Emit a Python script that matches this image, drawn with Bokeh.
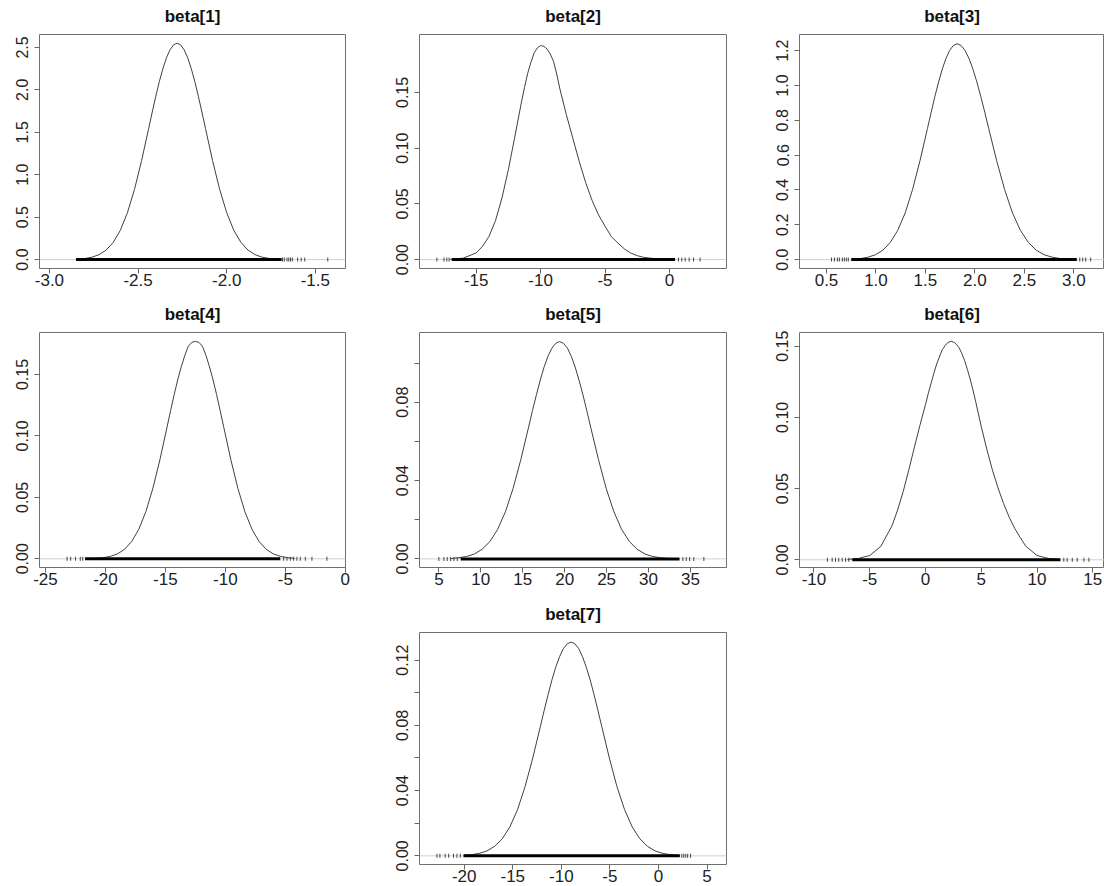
from bokeh.plotting import figure
from bokeh.layouts import gridplot
from bokeh.models import Range1d, FixedTicker, Span, PrintfTickFormatter
from bokeh.embed import file_html
from bokeh.resources import INLINE

# ---------------- data ----------------
titles = ["beta[1]", "beta[2]", "beta[3]", "beta[4]", "beta[5]", "beta[6]", "beta[7]"]

b1_x = [-2.84, -2.80, -2.76, -2.72, -2.68, -2.64, -2.60, -2.56, -2.52, -2.48, -2.44, -2.42, -2.40, -2.38, -2.36,
        -2.34, -2.32, -2.30, -2.28, -2.26, -2.24, -2.22, -2.20, -2.18, -2.16, -2.14, -2.12, -2.08, -2.04, -2.00,
        -1.96, -1.92, -1.88, -1.84, -1.80, -1.76, -1.72]
b1_y = [0.006, 0.013, 0.028, 0.058, 0.112, 0.203, 0.345, 0.552, 0.828, 1.167, 1.547, 1.739, 1.925, 2.098, 2.250,
        2.377, 2.471, 2.530, 2.550, 2.530, 2.471, 2.377, 2.250, 2.098, 1.925, 1.739, 1.547, 1.167, 0.828, 0.552,
        0.345, 0.203, 0.112, 0.058, 0.028, 0.013, 0.006]

b2_x = [-17.0, -16.0, -15.0, -14.5, -14.0, -13.5, -13.0, -12.5, -12.0, -11.5, -11.25, -11.0, -10.75, -10.5, -10.25,
        -10.0, -9.75, -9.5, -9.25, -9.0, -8.75, -8.5, -8.0, -7.5, -7.0, -6.5, -6.0, -5.5, -5.0, -4.5, -4.0, -3.5,
        -3.0, -2.5, -2.0, -1.0, 0.0]
b2_y = [0.0003, 0.0013, 0.0060, 0.0120, 0.0209, 0.0350, 0.0552, 0.0808, 0.1103, 0.1405, 0.1545, 0.1672, 0.1770,
        0.1855, 0.1900, 0.1920, 0.1915, 0.1890, 0.1845, 0.1780, 0.1665, 0.1530, 0.1300, 0.1090, 0.0880, 0.0690,
        0.0530, 0.0400, 0.0300, 0.0205, 0.0148, 0.0096, 0.0059, 0.0035, 0.0020, 0.0006, 0.0001]

b3_x = [0.77, 0.845, 0.92, 0.995, 1.07, 1.145, 1.22, 1.295, 1.37, 1.445, 1.52, 1.558, 1.595, 1.633, 1.67, 1.708,
        1.745, 1.783, 1.82, 1.86, 1.90, 1.94, 1.98, 2.02, 2.06, 2.10, 2.14, 2.22, 2.30, 2.38, 2.46, 2.54, 2.62,
        2.70, 2.78, 2.86, 2.94]
b3_y = [0.0027, 0.0063, 0.014, 0.028, 0.054, 0.099, 0.168, 0.268, 0.403, 0.568, 0.752, 0.846, 0.936, 1.020, 1.094,
        1.156, 1.202, 1.230, 1.240, 1.230, 1.202, 1.156, 1.094, 1.020, 0.936, 0.846, 0.752, 0.568, 0.403, 0.268,
        0.168, 0.099, 0.054, 0.028, 0.014, 0.0063, 0.0027]

b4_x = [-20.76, -20.17, -19.58, -18.99, -18.40, -17.81, -17.22, -16.63, -16.04, -15.45, -14.86, -14.565, -14.27,
        -13.975, -13.68, -13.385, -13.09, -12.795, -12.50, -12.205, -11.91, -11.615, -11.32, -11.025, -10.73,
        -10.435, -10.14, -9.55, -8.96, -8.37, -7.78, -7.19, -6.60, -6.01, -5.42, -4.83, -4.24]
b4_y = [0.0004, 0.0009, 0.0020, 0.0040, 0.0078, 0.0141, 0.0240, 0.0383, 0.0575, 0.0810, 0.1074, 0.1207, 0.1336,
        0.1456, 0.1562, 0.1655, 0.1730, 0.1762, 0.1770, 0.1762, 0.1730, 0.1655, 0.1562, 0.1456, 0.1336, 0.1207,
        0.1074, 0.0810, 0.0575, 0.0383, 0.0240, 0.0141, 0.0078, 0.0040, 0.0020, 0.0009, 0.0004]

b5_x = [6.45, 7.38, 8.30, 9.23, 10.15, 11.08, 12.00, 12.93, 13.85, 14.78, 15.70, 16.16, 16.63, 17.09, 17.55, 18.01,
        18.48, 18.94, 19.40, 19.86, 20.33, 20.79, 21.25, 21.71, 22.18, 22.64, 23.10, 24.03, 24.95, 25.88, 26.80,
        27.73, 28.65, 29.58, 30.50, 31.43, 32.35]
b5_y = [0.0002, 0.0006, 0.0012, 0.0025, 0.0049, 0.0088, 0.0150, 0.0240, 0.0360, 0.0508, 0.0673, 0.0757, 0.0838,
        0.0913, 0.0980, 0.1035, 0.1076, 0.1101, 0.1110, 0.1101, 0.1076, 0.1035, 0.0980, 0.0913, 0.0838, 0.0757,
        0.0673, 0.0508, 0.0360, 0.0240, 0.0150, 0.0088, 0.0049, 0.0025, 0.0012, 0.0006, 0.0002]

b6_x = [-7.0, -6.0, -5.0, -4.0, -3.0, -2.5, -2.0, -1.5, -1.0, -0.5, 0.0, 0.25, 0.5, 0.75, 1.0, 1.5, 1.75, 2.0,
        2.3, 2.6, 2.8, 3.0, 3.25, 3.5, 3.75, 4.0, 4.25, 4.5, 5.0, 5.5, 6.0, 6.5, 7.0, 7.5, 8.0, 8.5, 9.0, 10.0,
        11.0, 12.0]
b6_y = [0.0003, 0.0010, 0.0030, 0.0095, 0.0240, 0.0350, 0.0480, 0.0630, 0.0790, 0.0945, 0.1090, 0.1168, 0.1240,
        0.1310, 0.1375, 0.1475, 0.1503, 0.1525, 0.1535, 0.1525, 0.1510, 0.1490, 0.1450, 0.1400, 0.1338, 0.1270,
        0.1193, 0.1110, 0.0935, 0.0775, 0.0630, 0.0505, 0.0395, 0.0300, 0.0220, 0.0155, 0.0095, 0.0030, 0.0010,
        0.0003]

b7_x = [-20.03, -19.24, -18.45, -17.66, -16.88, -16.09, -15.30, -14.51, -13.73, -12.94, -12.15, -11.76, -11.36,
        -10.97, -10.58, -10.18, -9.79, -9.39, -9.00, -8.61, -8.21, -7.82, -7.43, -7.03, -6.64, -6.24, -5.85,
        -5.06, -4.28, -3.49, -2.70, -1.91, -1.13, -0.34, 0.45, 1.24, 2.03]
b7_y = [0.0003, 0.0007, 0.0015, 0.0030, 0.0058, 0.0104, 0.0177, 0.0283, 0.0425, 0.0600, 0.0795, 0.0893, 0.0989,
        0.1078, 0.1156, 0.1221, 0.1270, 0.1300, 0.1310, 0.1300, 0.1270, 0.1221, 0.1156, 0.1078, 0.0989, 0.0893,
        0.0795, 0.0600, 0.0425, 0.0283, 0.0177, 0.0104, 0.0058, 0.0030, 0.0015, 0.0007, 0.0003]

# rug: dense band of draws [low, high] and sparse outlying draws
b1_band = [-2.85, -1.69]
b1_tail = [-1.685, -1.675, -1.66, -1.65, -1.64, -1.63, -1.60, -1.58, -1.56, -1.43]
b2_band = [-16.9, 0.44]
b2_tail = [-18.05, -17.5, -17.28, -17.1, 0.7, 0.96, 1.22, 1.53, 1.87, 2.38]
b3_band = [0.75, 3.03]
b3_tail = [0.55, 0.58, 0.61, 0.63, 0.66, 0.68, 0.70, 0.72, 3.06, 3.09, 3.12, 3.17]
b4_band = [-21.7, -5.42]
b4_tail = [-23.2, -22.9, -22.5, -22.1, -21.9, -5.14, -4.86, -4.58, -4.31, -4.03, -3.75, -3.33, -2.78, -1.53]
b5_band = [7.6, 33.7]
b5_tail = [5.0, 5.6, 6.0, 6.4, 6.8, 7.2, 34.1, 34.5, 34.9, 35.4, 36.6]
b6_band = [-6.57, 12.1]
b6_tail = [-8.8, -8.37, -8.07, -7.78, -7.47, -7.17, -6.88, 12.4, 12.7, 13.16, 13.6, 14.2, 14.65]
b7_band = [-20.07, 2.2]
b7_tail = [-22.8, -22.5, -21.96, -21.6, -21.1, -20.75, -20.4, 2.4, 2.6, 2.8, 3.0, 3.3]

# axis ticks
b1_xticks = [-3.0, -2.5, -2.0, -1.5]
b1_yticks = [0.0, 0.5, 1.0, 1.5, 2.0, 2.5]
b2_xticks = [-15, -10, -5, 0]
b2_yticks = [0.00, 0.05, 0.10, 0.15]
b3_xticks = [0.5, 1.0, 1.5, 2.0, 2.5, 3.0]
b3_yticks = [0.0, 0.2, 0.4, 0.6, 0.8, 1.0, 1.2]
b4_xticks = [-25, -20, -15, -10, -5, 0]
b4_yticks = [0.00, 0.05, 0.10, 0.15]
b5_xticks = [5, 10, 15, 20, 25, 30, 35]
b5_yticks = [0.00, 0.04, 0.08]
b5_yminor = [0.02, 0.06, 0.10]
b6_xticks = [-10, -5, 0, 5, 10, 15]
b6_yticks = [0.00, 0.05, 0.10, 0.15]
b7_xticks = [-20, -15, -10, -5, 0, 5]
b7_yticks = [0.00, 0.04, 0.08, 0.12]
b7_yminor = [0.02, 0.06, 0.10]

# ---------------- layout / style ----------------
FONT = "Liberation Sans"

panels = [
    dict(t=titles[0], x=b1_x, y=b1_y, band=b1_band, tail=b1_tail, xr=(-3.056, -1.33), yr=(-0.105, 2.652),
         xt=b1_xticks, xf="%.1f", yt=b1_yticks, yf="%.1f", ym=[], w=368, h=297, bl=39, br=23, bt=32, bb=29),
    dict(t=titles[1], x=b2_x, y=b2_y, band=b2_band, tail=b2_tail, xr=(-19.4, 4.43), yr=(-0.008, 0.202),
         xt=b2_xticks, xf="%.0f", yt=b2_yticks, yf="%.2f", ym=[], w=368, h=297, bl=51, br=10, bt=32, bb=29),
    dict(t=titles[2], x=b3_x, y=b3_y, band=b3_band, tail=b3_tail, xr=(0.227, 3.31), yr=(-0.051, 1.293),
         xt=b3_xticks, xf="%.1f", yt=b3_yticks, yf="%.1f", ym=[], w=368, h=297, bl=63, br=0, bt=32, bb=29),
    dict(t=titles[3], x=b4_x, y=b4_y, band=b4_band, tail=b4_tail, xr=(-25.5, 0.02), yr=(-0.0071, 0.1842),
         xt=b4_xticks, xf="%.0f", yt=b4_yticks, yf="%.2f", ym=[], w=368, h=293, bl=39, br=23, bt=35, bb=23),
    dict(t=titles[4], x=b5_x, y=b5_y, band=b5_band, tail=b5_tail, xr=(2.69, 39.3), yr=(-0.0044, 0.1156),
         xt=b5_xticks, xf="%.0f", yt=b5_yticks, yf="%.2f", ym=b5_yminor, w=368, h=293, bl=51, br=10, bt=35, bb=23),
    dict(t=titles[5], x=b6_x, y=b6_y, band=b6_band, tail=b6_tail, xr=(-11.3, 16.05), yr=(-0.0054, 0.1596),
         xt=b6_xticks, xf="%.0f", yt=b6_yticks, yf="%.2f", ym=[], w=368, h=293, bl=63, br=0, bt=35, bb=23),
    dict(t=titles[6], x=b7_x, y=b7_y, band=b7_band, tail=b7_tail, xr=(-24.6, 7.0), yr=(-0.0053, 0.1369),
         xt=b7_xticks, xf="%.0f", yt=b7_yticks, yf="%.2f", ym=b7_yminor, w=368, h=296, bl=51, br=10, bt=42, bb=22),
]


def make_panel(c):
    p = figure(width=c["w"], height=c["h"], x_range=Range1d(*c["xr"]), y_range=Range1d(*c["yr"]),
               output_backend="svg", toolbar_location=None, min_border=0,
               min_border_left=c["bl"], min_border_right=c["br"],
               min_border_top=c["bt"], min_border_bottom=c["bb"], title=c["t"])
    p.grid.visible = False
    p.background_fill_color = "white"
    p.border_fill_color = "white"
    p.outline_line_color = "#707070"
    p.outline_line_width = 1
    p.title.align = "center"
    p.title.vertical_align = "top"
    p.title.text_font = FONT
    p.title.text_font_style = "bold"
    p.title.text_font_size = "17px"
    p.title.text_color = "#111111"
    try:
        p.title.standoff = 13
    except Exception:
        pass

    p.add_layout(Span(location=0, dimension="width", line_color="#cfcfcf", line_width=1, level="underlay"))

    p.line(c["x"], c["y"], line_color="#404040", line_width=1)
    lo, hi = c["band"]
    p.segment(x0=[lo], y0=[0], x1=[hi], y1=[0], line_color="black", line_width=3, line_cap="butt")
    p.rect(x=c["tail"], y=[0] * len(c["tail"]), width=1, height=4, width_units="screen",
           height_units="screen", fill_color="#444444", line_color=None)

    xa = p.xaxis[0]
    xa.ticker = FixedTicker(ticks=c["xt"])
    xa.formatter = PrintfTickFormatter(format=c["xf"])
    ya = p.yaxis[0]
    ya.ticker = FixedTicker(ticks=c["yt"], minor_ticks=c["ym"])
    ya.formatter = PrintfTickFormatter(format=c["yf"])
    ya.major_label_orientation = "vertical"
    for ax, so, fs in ((xa, 0, "17px"), (ya, 6, "16px")):
        ax.axis_line_color = None
        ax.major_tick_in = 0
        ax.major_tick_out = 5
        ax.minor_tick_in = 0
        ax.minor_tick_out = 5
        ax.major_tick_line_color = "#666666"
        ax.minor_tick_line_color = "#666666"
        ax.major_label_text_font = FONT
        ax.major_label_text_font_size = fs
        ax.major_label_text_color = "#222222"
        ax.major_label_standoff = so
    return p


figs = [make_panel(c) for c in panels]
grid = gridplot([[figs[0], figs[1], figs[2]],
                 [figs[3], figs[4], figs[5]],
                 [None, figs[6], None]], toolbar_location=None)

open("out.html", "w").write(file_html(grid, INLINE))
